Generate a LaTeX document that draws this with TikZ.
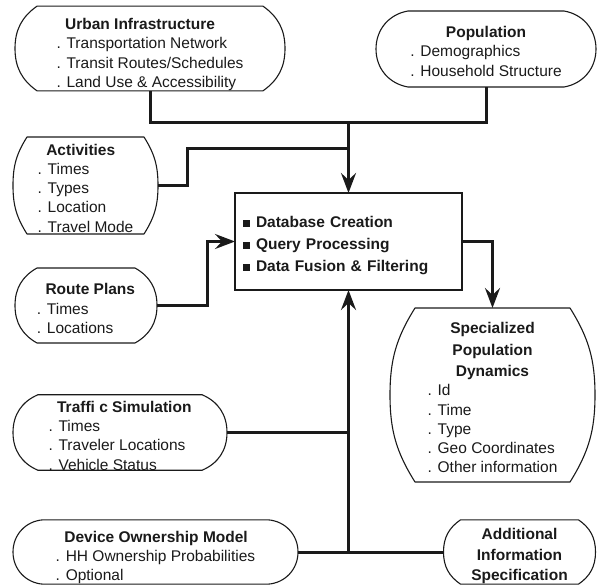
\documentclass[tikz,border=0pt]{standalone}
\usepackage{fontspec}
\setmainfont{Liberation Sans}
\usepackage{xcolor}
\definecolor{inkBlack}{HTML}{1A1A1A}
\usepackage{tikz}
\usetikzlibrary{
    arrows.meta,
    calc
}
% heading of a list, #1 height of its line (drops the block a little)
\newcommand{\hd}[2][11pt]{\rule{0pt}{#1}\phantom{.~}\textbf{#2}}
\newcommand{\hdc}[2][11pt]{\rule{0pt}{#1}\textbf{#2}}
\newcommand{\sqitem}[1]{\rule[0.5pt]{7pt}{7pt}\hspace{6pt}\textbf{#1}}
% outline with arc ends round a node: #1 node, #2 inset of the arcs
\newcommand{\pillframe}[2]{%
    \draw [pill frame] let \p1=($(#1.north)-(#1.south)$), \n1={veclen(\x1,\y1)/2},
        \n2={2*atan(#2/\n1)}, \n3={\n2-90}, \n4={90-\n2}, \n5={\n2+90}, \n6={270-\n2} in
        (#1.west) to[out=90, in=\n6] ($(#1.north west)+(#2,0)$)
        -- ($(#1.north east)+(-#2,0)$)
        to[out=\n3, in=90] (#1.east)
        to[out=-90, in=\n4] ($(#1.south east)+(-#2,0)$)
        -- ($(#1.south west)+(#2,0)$)
        to[out=\n5, in=-90] (#1.west) -- cycle;
}
\tikzset{
    % Base style for all nodes
    pill base/.style={
        font=\fontsize{15.5}{19.3}\selectfont,
        text=inkBlack,
        inner sep=0pt,
        outer sep=0pt,
    },
    % Data sources - list left aligned, outline drawn by \pillframe
    source/.style={
        pill base,
        rectangle,
        align=left,
    },
    % Same, with the heading centred
    source centered/.style={
        source,
        align=center,
    },
    % Outline of the sources
    pill frame/.style={
        draw=inkBlack,
        line width=1.1pt,
        line join=round,
    },
    % Central processing box
    hub/.style={
        pill base,
        rectangle,
        draw=inkBlack,
        line width=1.1pt,
        align=left,
        text width=211pt,
        inner xsep=8pt,
        minimum height=97pt,
    },
    % Plain connector
    link/.style={
        line width=3pt,
        draw=inkBlack,
    },
    % Connector with arrow tip
    arrow/.style={
        link,
        -{Stealth[length=20pt, width=15pt, inset=7pt]},
    },
}

\begin{document}
\begin{tikzpicture}[x=1pt, y=1pt]
    \useasboundingbox (0,0) rectangle (597,-585);

    \node (urban) [source, minimum width=270pt, minimum height=83pt] at (150,-48.5)
        {\hd[23.5pt]{Urban Infrastructure}\\. Transportation Network\\. Transit Routes/Schedules\\. Land Use \& Accessibility};
    \node (population) [source centered, minimum width=220pt, minimum height=76pt] at (486,-49)
        {\hdc[21.5pt]{Population}\\\begin{tabular}[t]{@{}l@{}}. Demographics\\. Household Structure\end{tabular}};
    \node (acts) [source, minimum width=145pt, minimum height=97pt] at (85.5,-185.5)
        {\hd[16.5pt]{Activities}\\. Times\\. Types\\. Location\\. Travel Mode};
    \node (route) [source, minimum width=142pt, minimum height=75pt] at (86,-305.5)
        {\hd[17.5pt]{Route Plans}\\. Times\\. Locations};
    \node (dbox) [hub] at (348.5,-241.5)
        {\rule{0pt}{19.5pt}\sqitem{Database Creation}\\[2.7pt]\sqitem{Query Processing}\\[2.7pt]\sqitem{Data Fusion \& Filtering}};
    \node (spec) [source centered, minimum width=205pt, minimum height=174pt] at (492.5,-395)
        {\hdc[22.5pt]{Specialized}\\[2pt]\textbf{Population}\\[2pt]\textbf{Dynamics}\\\begin{tabular}[t]{@{}l@{}}. Id\\. Time\\. Type\\. Geo Coordinates\\. Other information\end{tabular}};
    \node (traffic) [source, minimum width=214pt, minimum height=75pt] at (120,-432.5)
        {\hd[17.5pt]{Traffi c Simulation}\\. Times\\. Traveler Locations\\. Vehicle Status};
    \node (device) [source, minimum width=285pt, minimum height=63pt] at (155.5,-552)
        {\hd[22.5pt]{Device Ownership Model}\\. HH Ownership Probabilities\\. Optional};
    \node (addinfo) [source centered, minimum width=152pt, minimum height=64pt] at (519.5,-552)
        {\hdc[19.5pt]{Additional}\\[1.5pt]\textbf{Information}\\[1.5pt]\textbf{Specification}};

    % outlines
    \pillframe{urban}{22}
    \pillframe{population}{32}
    \pillframe{acts}{14}
    \pillframe{route}{22}
    \pillframe{spec}{25}
    \pillframe{traffic}{25}
    \pillframe{device}{30}
    \pillframe{addinfo}{17}

    % bend points of the connectors
    \coordinate (ytop) at (0,-123);
    \coordinate (actbend) at (187,-149);
    \coordinate (routebend) at (207,0);

    \draw [link] (urban.south) |- (dbox.north |- ytop);
    \draw [link] (population.south) |- (dbox.north |- ytop);
    \draw [arrow] (dbox.north |- ytop) -- (dbox.north);
    \draw [link] (acts.east) -| (actbend) -- (actbend -| dbox.north);
    \draw [arrow] (route.east) -| (routebend |- dbox.west) -- (dbox.west);
    \draw [arrow] (dbox.east) -| (spec.north);
    \draw [link] (traffic.east) -- (traffic.east -| dbox.south);
    \draw [link] (device.east) -- (addinfo.west);
    \draw [arrow] (device.east -| dbox.south) -- (dbox.south);
\end{tikzpicture}
\end{document}
